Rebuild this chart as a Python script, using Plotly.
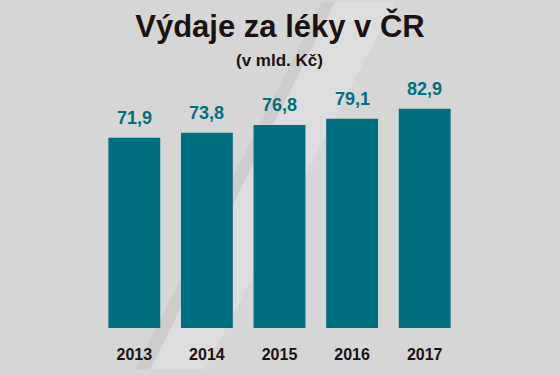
import plotly.graph_objects as go

years = ["2013", "2014", "2015", "2016", "2017"]
values = [71.9, 73.8, 76.8, 79.1, 82.9]
title_text = "Výdaje za léky v ČR"
subtitle_text = "(v mld. Kč)"

TEAL = "#006f80"
DARK = "#1c1212"
W, H = 560, 375
L, R, T, B = 98, 99, 90, 42
pw, ph = W - L - R, H - T - B

def px2paper(px, py):
    return (px - L) / pw, (H - B - py) / ph

def path(points):
    pts = [px2paper(x, y) for x, y in points]
    return "M " + " L ".join(f"{x:.4f},{y:.4f}" for x, y in pts) + " Z"

fig = go.Figure()
fig.add_trace(go.Bar(x=years, y=values, marker=dict(color=TEAL, line=dict(width=0)),
                     hoverinfo="skip"))

labels = [f"{v:.1f}".replace(".", ",") for v in values]
annotations = [dict(x=i, y=v, text=t, showarrow=False, yanchor="bottom", yshift=8,
                    font=dict(family="Liberation Sans", size=18, color=TEAL, weight="bold"))
               for i, (v, t) in enumerate(zip(values, labels))]
annotations.append(dict(x=0.5, y=px2paper(0, 60)[1], xref="paper", yref="paper",
                        text=f"<b>{subtitle_text}</b>", showarrow=False, yanchor="middle",
                        font=dict(family="Liberation Sans", size=17, color=DARK)))

shapes = [
    dict(type="path", xref="paper", yref="paper", path=path([(335, 0), (395, 0), (205, 375), (150, 375)]),
         fillcolor="rgba(255,255,255,0.18)", line=dict(width=0), layer="below"),
    dict(type="path", xref="paper", yref="paper", path=path([(322, 0), (335, 0), (150, 375), (135, 375)]),
         fillcolor="rgba(0,0,0,0.04)", line=dict(width=0), layer="below"),
]

fig.update_layout(
    width=W, height=H,
    margin=dict(l=L, r=R, t=T, b=B),
    paper_bgcolor="#d6d6d6", plot_bgcolor="rgba(0,0,0,0)",
    bargap=0.285,
    showlegend=False,
    title=dict(text=f"<b>{title_text}</b>", x=0.5, xanchor="center", xref="container",
               y=1 - 26 / H, yanchor="middle", yref="container",
               font=dict(family="Liberation Sans", size=31, color=DARK)),
    xaxis=dict(type="category", range=[-0.5, len(years) - 0.5], autorange=False,
               showgrid=False, zeroline=False, showline=False, ticks="outside", ticklen=12,
               tickcolor="rgba(0,0,0,0)",
               tickfont=dict(family="Liberation Sans", size=16, color=DARK, weight="bold")),
    yaxis=dict(range=[0, 90], autorange=False, visible=False),
    annotations=annotations,
    shapes=shapes,
)

fig.write_html("out.html",
               config={"displayModeBar": False, "staticPlot": True},
               post_script="document.body.style.margin='0';document.body.style.padding='0';"
                           "document.body.style.overflow='hidden';")
